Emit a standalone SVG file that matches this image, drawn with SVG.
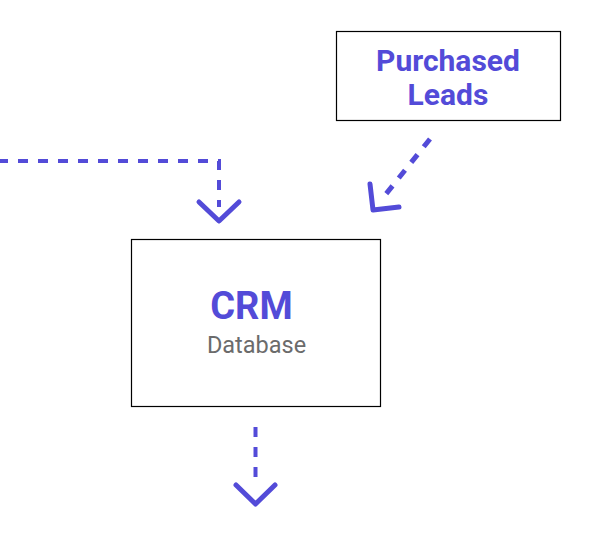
<svg xmlns="http://www.w3.org/2000/svg" width="596" height="536" viewBox="0 0 596 536">
<style>
.box{fill:#fff;stroke:#000;stroke-width:1.2}
.title{font-family:Roboto,"Liberation Sans",sans-serif;font-weight:bold;fill:#534bd8;text-anchor:middle}
.sub{font-family:Roboto,"Liberation Sans",sans-serif;fill:#6b6b6b;text-anchor:middle}
.dash{fill:none;stroke:#534bd8;stroke-width:4;stroke-dasharray:10 10}
.head{fill:none;stroke:#534bd8;stroke-width:5;stroke-linecap:round;stroke-linejoin:round}
</style>
<rect width="596" height="536" fill="#fff"/>
<g id="connectors">
<path class="dash" d="M0 161 H219 V207" stroke-dashoffset="2"/>
<path class="head" d="M199 202 L219 221 L239 202"/>
<path class="dash" d="M430 139 L382 199" style="stroke-width:5"/>
<path class="head" d="M370 184 L373 210 L399 207"/>
<path class="dash" d="M255.5 427 V479"/>
<path class="head" d="M236 485 L255.5 504 L275 485"/>
</g>
<g id="purchased-leads">
<rect class="box" x="336.5" y="31.5" width="224" height="89"/>
<text class="title" x="448" y="71" font-size="30">Purchased</text>
<text class="title" x="448" y="105" font-size="30">Leads</text>
</g>
<g id="crm">
<rect class="box" x="131.5" y="239.5" width="249" height="167"/>
<text class="title" x="251.5" y="318.5" font-size="38">CRM</text>
<text class="sub" x="256.5" y="353" font-size="23.5">Database</text>
</g>
</svg>
